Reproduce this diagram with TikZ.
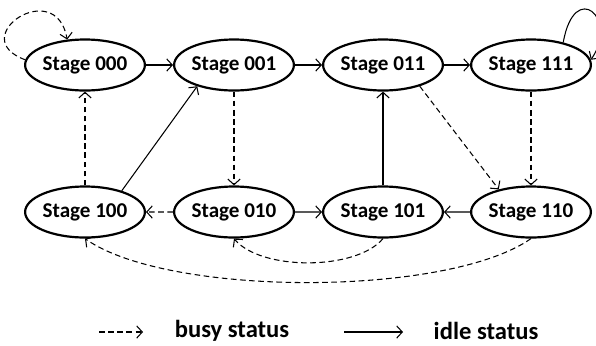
\documentclass[tikz,border=0pt]{standalone}
\usepackage{fontspec}
\setmainfont{Carlito}
\usepackage{tikz}
\usetikzlibrary{arrows.meta,shapes.geometric}

\begin{document}
\begin{tikzpicture}[scale=0.2, line width=0.6pt, >={Straight Barb[length=3.2pt,width=7pt]}]
\tikzstyle{every node}+=[inner sep=0pt]
\tikzstyle{stage}=[draw=black, ellipse, line width=1.25pt, minimum width=1.98cm, minimum height=1.02cm, font=\fontsize{12}{14}\selectfont\bfseries]
\tikzstyle{busy}=[dash pattern=on 3.2pt off 2pt]
\tikzstyle{legend}=[font=\fontsize{14}{16}\selectfont\bfseries]
\useasboundingbox (0,0) rectangle (59.6,-34.5);
\node [stage] (s000) at (8.5,-6.5) {Stage 000};
\node [stage] (s001) at (23.4,-6.5) {Stage 001};
\node [stage] (s011) at (38.3,-6.5) {Stage 011};
\node [stage] (s111) at (53.1,-6.5) {Stage 111};
\node [stage] (s100) at (8.5,-21.2) {Stage 100};
\node [stage] (s010) at (23.4,-21.2) {Stage 010};
\node [stage] (s101) at (38.3,-21.2) {Stage 101};
\node [stage] (s110) at (53.1,-21.2) {Stage 110};
\draw [black,->] (s000) -- (s001);
\draw [black,->] (s001) -- (s011);
\draw [black,->] (s011) -- (s111);
\draw [black,->] (s100.30) -- (s001.210);
\draw [black,->] (s010) -- (s101);
\draw [black,->] (s110) -- (s101);
\draw [black,->] (s101) -- (s011);
\draw [black,->] (s111.35) .. controls +(80:6.5) and +(55:5) .. (s111.5);
\draw [black,busy,->] (s000.175) .. controls +(160:6.5) and +(100:6.5) .. (s000.125);
\draw [black,busy,->] (s100) -- (s000);
\draw [black,busy,->] (s001) -- (s010);
\draw [black,busy,->] (s010) -- (s100);
\draw [black,busy,->] (s111) -- (s110);
\draw [black,busy,->] (s011.-30) -- (s110.145);
\draw [black,busy,->] (s101.south) .. controls +(-130:4.2) and +(-50:4.2) .. (s010.south);
\draw [black,busy,->] (s110.south) .. controls +(-145:10.2) and +(-35:10.2) .. (s100.south);
\coordinate (b1) at (9.9,-33.2);
\coordinate (b2) at (14.3,-33.2);
\draw [black,busy,->] (b1) -- (b2);
\node [legend] (busy) at (23.2,-33.1) {busy status};
\coordinate (i1) at (34.4,-33.2);
\coordinate (i2) at (40.3,-33.2);
\draw [black,->] (i1) -- (i2);
\node [legend] (idle) at (48.6,-33.1) {idle status};
\end{tikzpicture}
\end{document}
